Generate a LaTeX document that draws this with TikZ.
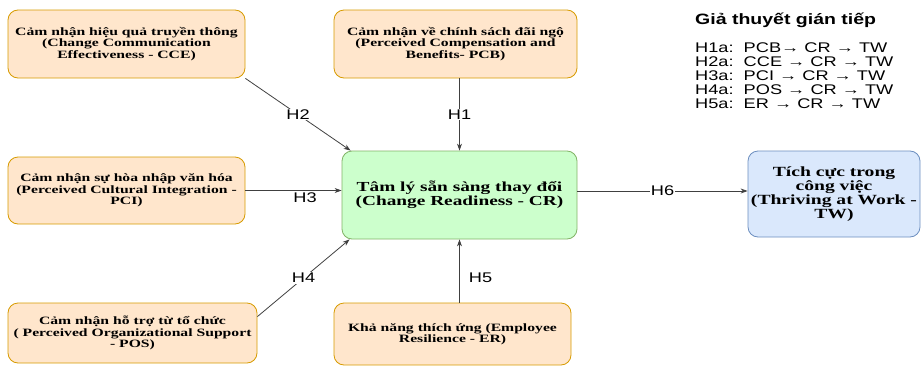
\documentclass[tikz,border=0pt]{standalone}
\usepackage{fontspec}
\setmainfont{Liberation Serif}[FakeStretch=1.4]
\newfontfamily\hsans{Liberation Sans}[FakeStretch=1.3]
\usetikzlibrary{arrows.meta}
\definecolor{orfill}{HTML}{FFE6CC}
\definecolor{ordraw}{HTML}{D79B00}
\definecolor{grfill}{HTML}{CCFFCC}
\definecolor{grdraw}{HTML}{82B366}
\definecolor{blfill}{HTML}{DAE8FC}
\definecolor{bldraw}{HTML}{6C8EBF}

\begin{document}
\begin{tikzpicture}[x=1pt,y=-1pt,
  factor/.style={draw=ordraw,fill=orfill,rounded corners=10pt,line width=.8pt,align=center,inner sep=1pt,font=\bfseries\fontsize{11.2}{11.5}\selectfont},
  core/.style={factor,draw=grdraw,fill=grfill,font=\bfseries\fontsize{13.8}{14.3}\selectfont},
  outcome/.style={factor,draw=bldraw,fill=blfill,inner sep=0pt,font=\bfseries\fontsize{14}{12.5}\selectfont},
  hyp/.style={draw=black!75,line width=.8pt,-{Stealth[length=7pt,width=5pt]}},
  hlabel/.style={font=\hsans\fontsize{14}{14}\selectfont,fill=white,inner sep=1pt}]
\useasboundingbox (0,0) rectangle (921,367);
\node[factor,minimum width=237pt,minimum height=68pt] (cce) at (126.5,44) {Cảm nhận hiệu quả truyền thông\\(Change Communication\\Effectiveness - CCE)};
\node[factor,minimum width=243pt,minimum height=68pt] (pcb) at (455.5,44) {Cảm nhận về chính sách đãi ngộ\\(Perceived Compensation and\\Benefits- PCB)};
\node[factor,minimum width=237pt,minimum height=67pt] (pci) at (126.5,190.5) {Cảm nhận sự hòa nhập văn hóa\\(Perceived Cultural Integration -\\PCI)};
\node[core,minimum width=235pt,minimum height=88pt] (cr) at (459.5,195) {Tâm lý sẵn sàng thay đổi\\(Change Readiness - CR)};
\node[outcome,minimum width=172pt,minimum height=86pt] (tw) at (834,194) {Tích cực trong\\công việc\\(Thriving at Work -\\TW)};
\node[factor,minimum width=249pt,minimum height=60pt] (pos) at (132.5,333) {Cảm nhận hỗ trợ từ tổ chức\\( Perceived Organizational Support\\- POS)};
\node[factor,minimum width=237pt,minimum height=62pt] (er) at (452.5,334) {Khả năng thích ứng (Employee\\Resilience - ER)};

\draw[hyp] (cce.south east) -- ([xshift=9pt]cr.north west) node[hlabel,midway] (h2) {H2};
\draw[hyp] (cr.north |- pcb.south) -- (cr.north) node[hlabel,midway] (h1) {H1};
\draw[hyp] (pci.east) -- (pci.east -| cr.west) node[hlabel,pos=.62,below=1pt] (h3) {H3};
\draw[hyp] ([yshift=-14pt]pos.north east) -- ([xshift=8pt]cr.south west) node[hlabel,midway] (h4) {H4};
\draw[hyp] (cr.south |- er.north) -- (cr.south) node[hlabel,pos=.4,right=8pt] (h5) {H5};
\draw[hyp] ([yshift=4pt]cr.east) -- ([yshift=4pt]cr.east -| tw.west) node[hlabel,midway] (h6) {H6};

\node[anchor=base west,inner sep=0pt,font=\hsans\bfseries\fontsize{15}{15}\selectfont] (legtitle) at (695,24) {Giả thuyết gián tiếp};
\node[anchor=base west,inner sep=0pt,font=\hsans\fontsize{14}{14}\selectfont] (leg1) at (695,52) {H1a:\ \ PCB→ CR → TW};
\node[anchor=base west,inner sep=0pt,font=\hsans\fontsize{14}{14}\selectfont] (leg2) at (695,66) {H2a:\ \ CCE → CR → TW};
\node[anchor=base west,inner sep=0pt,font=\hsans\fontsize{14}{14}\selectfont] (leg3) at (695,80) {H3a:\ \ PCI → CR → TW};
\node[anchor=base west,inner sep=0pt,font=\hsans\fontsize{14}{14}\selectfont] (leg4) at (695,94) {H4a:\ \ POS → CR → TW};
\node[anchor=base west,inner sep=0pt,font=\hsans\fontsize{14}{14}\selectfont] (leg5) at (695,108) {H5a:\ \ ER → CR → TW};
\end{tikzpicture}
\end{document}
